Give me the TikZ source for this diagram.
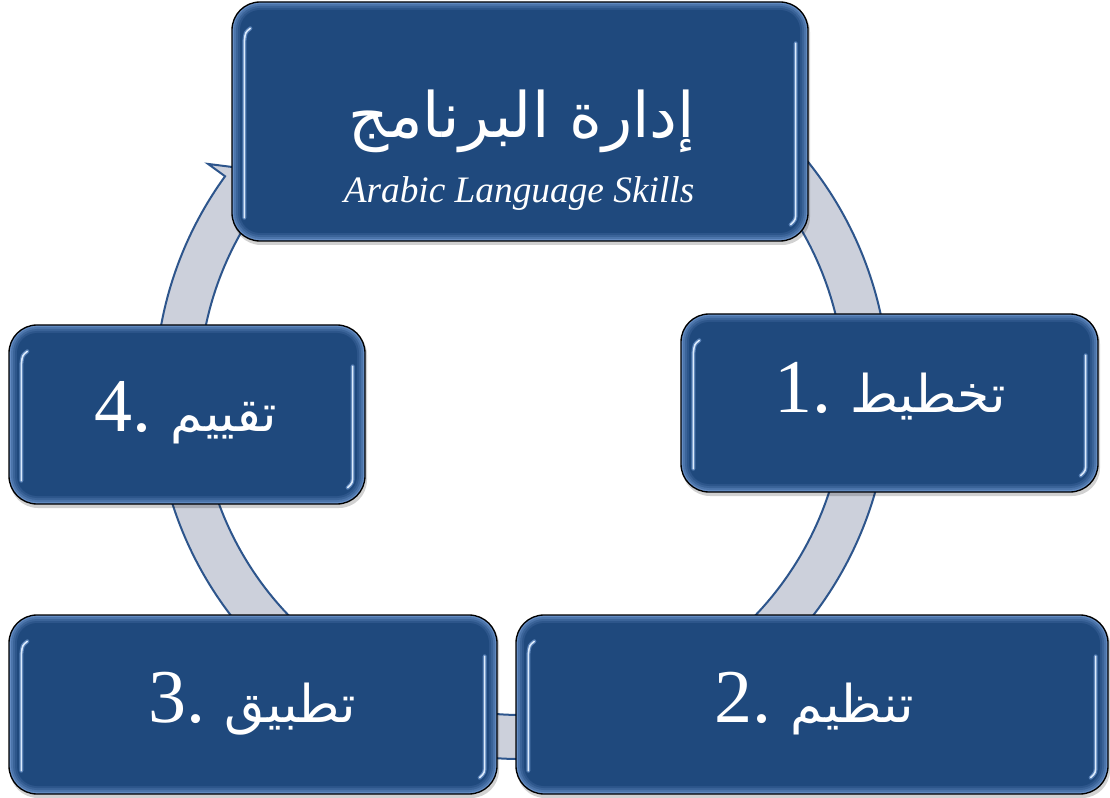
\documentclass[tikz,border=0pt]{standalone}
\usepackage{fontspec}
\setmainfont{Liberation Serif}
\newfontfamily\arabicfont[Script=Arabic]{DejaVu Sans}
\TeXXeTstate=1
\usetikzlibrary{calc}
\definecolor{boxmain}{RGB}{31,73,125}
\definecolor{boxlight}{RGB}{100,140,195}
\definecolor{boxhi}{RGB}{220,235,252}
\definecolor{ringfill}{RGB}{204,208,219}
\definecolor{ringline}{RGB}{45,85,140}
\newcommand\numf{\fontsize{57}{60}\selectfont}
\newcommand\arf{\arabicfont\fontsize{39}{42}\selectfont}
\tikzset{
  ring/.style={fill=ringfill, draw=ringline, line width=1.5pt, line join=miter},
  boxnode/.style={draw=black, line width=1pt, fill=boxlight, rounded corners=21pt, inner sep=0pt,
    path picture={
      \foreach \d/\m in {2/35,4/60,6/80,8/100}{
        \pgfmathsetmacro\rr{(28-\d)*0.75}
        \fill[boxmain!\m!boxlight, rounded corners=\rr pt]
          ($(path picture bounding box.south west)+(\d,\d)$) rectangle
          ($(path picture bounding box.north east)-(\d,\d)$);
      }
    }},
  higlow/.style={draw=boxlight!80!boxmain, line width=3pt, line cap=round},
  hiline/.style={draw=boxhi, line width=1.2pt, line cap=round},
  shadowbox/.style={fill=black, opacity=0.18, rounded corners=21pt},
  lbl/.style={text=white, inner sep=0pt, anchor=base}
}
\newcommand\bevbox[5]{%
  \fill[shadowbox] ($(#2,#3)+(-#4/2+1,-#5/2-4)$) rectangle ($(#2,#3)+(#4/2+2,#5/2-2)$);
  \node[boxnode, minimum width={#4*0.75pt}, minimum height={#5*0.75pt}] (#1) at (#2,#3) {};
  \foreach \s in {higlow,hiline}{
    \draw[\s] ($(#1.north west)+(19,-27)$) .. controls ($(#1.north west)+(14,-31)$) .. ($(#1.north west)+(13,-40)$) -- ($(#1.south west)+(13,24)$);
    \draw[\s] ($(#1.north east)+(-13,-42)$) -- ($(#1.south east)+(-13,30)$) .. controls ($(#1.south east)+(-13,22)$) .. ($(#1.south east)+(-18,17)$);
  }
}
\begin{document}
\begin{tikzpicture}[x=0.75pt,y=0.75pt]
\useasboundingbox (0,0) rectangle (1110,797);
\fill[white] (0,0) rectangle (1110,797);
% cycle arrow ring
\begin{scope}[shift={(522,405)}]
  \draw[ring] (60:367) arc[start angle=60, end angle=-216, radius=367]
    -- (-216:388) -- (-220:345) -- (-216:302) -- (-216:323)
    arc[start angle=-216, end angle=60, radius=323] -- cycle;
\end{scope}
% boxes
\bevbox{top}{520}{675.5}{576}{239}
\bevbox{b1}{889.5}{394}{417}{178}
\bevbox{b2}{812}{92.5}{592}{179}
\bevbox{b3}{253}{92.5}{488}{179}
\bevbox{b4}{187}{382.5}{356}{179}
% texts
\node[lbl] (ta) at (522,659) {\arabicfont\fontsize{47}{50}\selectfont\beginR إدارة البرنامج\endR};
\node[lbl] (te) at (519,594) {\itshape\fontsize{28}{32}\selectfont Arabic Language Skills};
\node[lbl] (t1) at (890,384) {\numf 1.\ \arf\beginR تخطيط\endR};
\node[lbl] (t2) at (814,75) {\numf 2.\ \arf\beginR تنظيم\endR};
\node[lbl] (t3) at (252,75) {\numf 3.\ \arf\beginR تطبيق\endR};
\node[lbl] (t4) at (186,365) {\numf 4.\ \arf\beginR تقييم\endR};
\end{tikzpicture}
\end{document}
